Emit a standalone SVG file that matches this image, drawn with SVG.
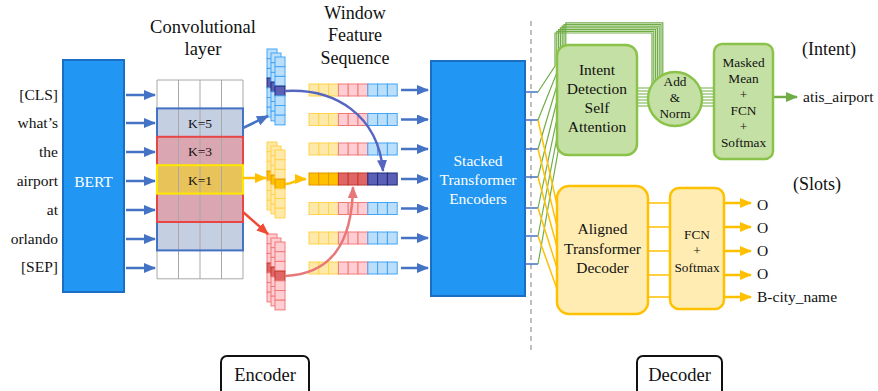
<svg xmlns="http://www.w3.org/2000/svg" xmlns:xlink="http://www.w3.org/1999/xlink" width="878" height="391" viewBox="0 0 878 391" font-family="'Liberation Serif', 'DejaVu Serif', serif">
<defs>
<style>
.t{font-family:'Liberation Serif','DejaVu Serif',serif;fill:#111;}
.w{font-family:'Liberation Serif','DejaVu Serif',serif;fill:#fff;}
.ab{stroke:#4472C4;stroke-width:2.5;fill:none;marker-end:url(#mB);}
.cy{fill:#FFE9A8;stroke:#FFD34D;stroke-width:1;}
.cr{fill:#FFCDD2;stroke:#F07A7A;stroke-width:1;}
.cb{fill:#BBDEFB;stroke:#42A5F5;stroke-width:1;}
.cyd{fill:#FFC000;stroke:#E69500;stroke-width:1;}
.crd{fill:#E06666;stroke:#C0392B;stroke-width:1;}
.cbd{fill:#5B5FB5;stroke:#1F2A7A;stroke-width:1;}
.grid{stroke:#A8A8A8;stroke-width:1;fill:none;}
.gl{stroke:#70AD47;stroke-width:1.2;fill:none;}
.yl{stroke:#FFC000;stroke-width:1.5;fill:none;}
.ya{stroke:#FFC000;stroke-width:2.5;fill:none;marker-end:url(#mY);}
</style>
<marker id="mB" markerUnits="userSpaceOnUse" viewBox="0 0 12 10" markerWidth="12" markerHeight="10" refX="11" refY="5" orient="auto"><path d="M0,0 L12,5 L0,10 z" fill="#4472C4"/></marker>
<marker id="mY" markerUnits="userSpaceOnUse" viewBox="0 0 12 10" markerWidth="12" markerHeight="10" refX="11" refY="5" orient="auto"><path d="M0,0 L12,5 L0,10 z" fill="#FFC000"/></marker>
<marker id="mR" markerUnits="userSpaceOnUse" viewBox="0 0 12 10" markerWidth="12" markerHeight="10" refX="11" refY="5" orient="auto"><path d="M0,0 L12,5 L0,10 z" fill="#F04A35"/></marker>
<marker id="mP" markerUnits="userSpaceOnUse" viewBox="0 0 12 10" markerWidth="12" markerHeight="10" refX="11" refY="5" orient="auto"><path d="M0,0 L12,5 L0,10 z" fill="#5565C0"/></marker>
<marker id="mK" markerUnits="userSpaceOnUse" viewBox="0 0 12 10" markerWidth="12" markerHeight="10" refX="11" refY="5" orient="auto"><path d="M0,0 L12,5 L0,10 z" fill="#E87878"/></marker>
<marker id="mG" markerUnits="userSpaceOnUse" viewBox="0 0 12 10" markerWidth="12" markerHeight="10" refX="11" refY="5" orient="auto"><path d="M0,0 L12,5 L0,10 z" fill="#70AD47"/></marker>
<g id="colB"><rect class="cb" x="0" y="0" width="10" height="9.7"/><rect class="cb" x="0" y="9.7" width="10" height="9.7"/><rect class="cb" x="0" y="19.4" width="10" height="9.7"/><rect class="cbd" x="0" y="29.1" width="10" height="9.7"/><rect class="cb" x="0" y="38.8" width="10" height="9.7"/><rect class="cb" x="0" y="48.5" width="10" height="9.7"/><rect class="cb" x="0" y="58.2" width="10" height="9.7"/></g>
<g id="colY"><rect class="cy" x="0" y="0" width="10" height="9.7"/><rect class="cy" x="0" y="9.7" width="10" height="9.7"/><rect class="cy" x="0" y="19.4" width="10" height="9.7"/><rect class="cyd" x="0" y="29.1" width="10" height="9.7"/><rect class="cy" x="0" y="38.8" width="10" height="9.7"/><rect class="cy" x="0" y="48.5" width="10" height="9.7"/><rect class="cy" x="0" y="58.2" width="10" height="9.7"/></g>
<g id="colR"><rect class="cr" x="0" y="0" width="10" height="9.7"/><rect class="cr" x="0" y="9.7" width="10" height="9.7"/><rect class="cr" x="0" y="19.4" width="10" height="9.7"/><rect class="crd" x="0" y="29.1" width="10" height="9.7"/><rect class="cr" x="0" y="38.8" width="10" height="9.7"/><rect class="cr" x="0" y="48.5" width="10" height="9.7"/><rect class="cr" x="0" y="58.2" width="10" height="9.7"/></g>
<g id="wrow"><rect class="cy" x="309" y="0" width="9.8" height="12"/><rect class="cy" x="318.8" y="0" width="9.8" height="12"/><rect class="cy" x="328.6" y="0" width="9.8" height="12"/><rect class="cr" x="338.4" y="0" width="9.8" height="12"/><rect class="cr" x="348.2" y="0" width="9.8" height="12"/><rect class="cr" x="358" y="0" width="9.8" height="12"/><rect class="cb" x="367.8" y="0" width="9.8" height="12"/><rect class="cb" x="377.6" y="0" width="9.8" height="12"/><rect class="cb" x="387.4" y="0" width="9.8" height="12"/></g>
</defs>
<rect width="878" height="391" fill="#fff"/>

<!-- titles -->
<text class="t" x="203" y="33" font-size="18.5" text-anchor="middle">Convolutional</text>
<text class="t" x="203" y="55" font-size="18.5" text-anchor="middle">layer</text>
<text class="t" x="355" y="19" font-size="18" text-anchor="middle">Window</text>
<text class="t" x="355" y="41" font-size="18" text-anchor="middle">Feature</text>
<text class="t" x="355" y="64" font-size="18" text-anchor="middle">Sequence</text>

<!-- tokens -->
<g id="tokens" font-size="15.5">
<text class="t" x="58" y="100" text-anchor="end">[CLS]</text>
<text class="t" x="58" y="128" text-anchor="end">what’s</text>
<text class="t" x="58" y="157" text-anchor="end">the</text>
<text class="t" x="58" y="186" text-anchor="end">airport</text>
<text class="t" x="58" y="215" text-anchor="end">at</text>
<text class="t" x="58" y="244" text-anchor="end">orlando</text>
<text class="t" x="58" y="272" text-anchor="end">[SEP]</text>
</g>

<g id="bert">
<rect x="63" y="60" width="61" height="232" fill="#2196F3" stroke="#1A6FC4" stroke-width="2"/>
<text class="w" x="93.5" y="187" font-size="15.5" text-anchor="middle">BERT</text>
</g>

<g id="conv">
<rect x="157" y="108.4" width="86" height="28.4" fill="#C5CFE2"/>
<rect x="157" y="136.8" width="86" height="28.4" fill="#D9A6B2"/>
<rect x="157" y="165.2" width="86" height="28.4" fill="#E8C35A"/>
<rect x="157" y="193.6" width="86" height="28.4" fill="#D9A6B2"/>
<rect x="157" y="222" width="86" height="28.4" fill="#C5CFE2"/>
<path class="grid" d="M157,80 H243 M157,108.4 H243 M157,136.8 H243 M157,165.2 H243 M157,193.6 H243 M157,222 H243 M157,250.4 H243 M157,278.8 H243 M157,80 V278.8 M178.5,80 V278.8 M200,80 V278.8 M221.5,80 V278.8 M243,80 V278.8"/>
<rect x="157" y="108.4" width="86" height="142" fill="none" stroke="#4472C4" stroke-width="2"/>
<rect x="157" y="136.8" width="86" height="85.2" fill="none" stroke="#E84545" stroke-width="2"/>
<rect x="157" y="165.2" width="86" height="28.4" fill="none" stroke="#FFE800" stroke-width="2"/>
<text class="t" x="200" y="127.5" font-size="13.5" text-anchor="middle">K=5</text>
<text class="t" x="200" y="156" font-size="13.5" text-anchor="middle">K=3</text>
<text class="t" x="200" y="184.5" font-size="13.5" text-anchor="middle">K=1</text>
</g>

<g id="stacks">
<use xlink:href="#colB" x="267" y="49"/><use xlink:href="#colB" x="271" y="53"/><use xlink:href="#colB" x="275" y="57"/>
<use xlink:href="#colY" x="267" y="142"/><use xlink:href="#colY" x="271" y="146"/><use xlink:href="#colY" x="275" y="150"/>
<use xlink:href="#colR" x="267" y="234"/><use xlink:href="#colR" x="271" y="238"/><use xlink:href="#colR" x="275" y="242"/>
</g>

<g id="window">
<use xlink:href="#wrow" y="84"/>
<use xlink:href="#wrow" y="113.5"/>
<use xlink:href="#wrow" y="143"/>
<g>
<rect class="cyd" x="309" y="173" width="9.8" height="12"/><rect class="cyd" x="318.8" y="173" width="9.8" height="12"/><rect class="cyd" x="328.6" y="173" width="9.8" height="12"/>
<rect class="crd" x="338.4" y="173" width="9.8" height="12"/><rect class="crd" x="348.2" y="173" width="9.8" height="12"/><rect class="crd" x="358" y="173" width="9.8" height="12"/>
<rect class="cbd" x="367.8" y="173" width="9.8" height="12"/><rect class="cbd" x="377.6" y="173" width="9.8" height="12"/><rect class="cbd" x="387.4" y="173" width="9.8" height="12"/>
</g>
<use xlink:href="#wrow" y="202.5"/>
<use xlink:href="#wrow" y="232"/>
<use xlink:href="#wrow" y="262"/>
</g>

<g id="encoder">
<rect x="431" y="61" width="94" height="235" fill="#2196F3" stroke="#1A6FC4" stroke-width="2"/>
<text class="w" x="478" y="166" font-size="15.5" text-anchor="middle">Stacked</text>
<text class="w" x="478" y="185" font-size="15.5" text-anchor="middle">Transformer</text>
<text class="w" x="478" y="204" font-size="15.5" text-anchor="middle">Encoders</text>
</g>

<line x1="531" y1="21" x2="531" y2="350" stroke="#AAAAAA" stroke-width="1.5" stroke-dasharray="5,4"/>

<g id="connectors">
<g class="ab">
<path d="M126,95 H155"/><path d="M126,123 H155"/><path d="M126,152 H155"/><path d="M126,181 H155"/><path d="M126,210 H155"/><path d="M126,239 H155"/><path d="M126,268 H155"/>
<path d="M401,90 H428"/><path d="M401,119.5 H428"/><path d="M401,149 H428"/><path d="M401,179 H428"/><path d="M401,208.5 H428"/><path d="M401,238 H428"/><path d="M401,268 H428"/>
<path d="M243,128 L268,116"/>
</g>
<path d="M243,178 L266,178" stroke="#FFC000" stroke-width="2.5" fill="none" marker-end="url(#mY)"/>
<path d="M243,212 L268,234" stroke="#F04A35" stroke-width="2.5" fill="none" marker-end="url(#mR)"/>
<path d="M285,91 C335,88 378,115 383,171" stroke="#5565C0" stroke-width="2.5" fill="none" marker-end="url(#mP)"/>
<path d="M285,184 C295,184 294,179 306,179" stroke="#FFC000" stroke-width="2.5" fill="none" marker-end="url(#mY)"/>
<path d="M285,276 C330,274 352,245 353,187" stroke="#E87878" stroke-width="2.5" fill="none" marker-end="url(#mK)"/>
<path d="M525,92 H538 M525,120 H538 M525,149 H538 M525,177 H538 M525,208 H538 M525,236 H538 M525,264 H538" stroke="#4472C4" stroke-width="1.5" fill="none"/>
<path class="gl" d="M538,92 L555,66 V33 H652 V100"/>
<path class="gl" d="M538,120 L556.8,73 V31.3 H653.8 V100"/>
<path class="gl" d="M538,149 L558.6,80 V29.6 H655.6 V100"/>
<path class="gl" d="M538,177 L560.4,87 V27.9 H657.4 V100"/>
<path class="gl" d="M538,208 L562.2,94 V26.2 H659.2 V100"/>
<path class="gl" d="M538,236 L564,101 V24.5 H661 V100"/>
<path class="gl" d="M538,264 L565.8,108 V22.8 H662.8 V100"/>
<path class="gl" d="M637,88 H714 M637,91 H714 M637,94 H714 M637,97 H714 M637,100 H714 M637,103 H714 M637,106 H714"/>
<path class="yl" d="M538,120 L557,205 M538,149 L557,226 M538,177 L557,247 M538,208 L557,268 M538,236 L557,289"/>
<path class="yl" d="M648,203 H670 M648,227 H670 M648,251 H670 M648,275 H670 M648,297 H670"/>
<g class="ya">
<path d="M724,203 H751"/><path d="M724,227 H751"/><path d="M724,251 H751"/><path d="M724,275 H751"/><path d="M724,297 H751"/>
</g>
<path d="M773,97 H797" stroke="#70AD47" stroke-width="2.5" fill="none" marker-end="url(#mG)"/>
</g>

<g id="intent">
<rect x="557" y="45" width="80" height="110" rx="11" fill="#C5E0A4" stroke="#8BC34A" stroke-width="2.5"/>
<text class="t" x="597" y="75" font-size="15.5" text-anchor="middle">Intent</text>
<text class="t" x="597" y="94" font-size="15.5" text-anchor="middle">Detection</text>
<text class="t" x="597" y="113" font-size="15.5" text-anchor="middle">Self</text>
<text class="t" x="597" y="132" font-size="15.5" text-anchor="middle">Attention</text>
</g>

<g id="addnorm">
<circle cx="675" cy="99" r="27" fill="#C5E0A4" stroke="#8BC34A" stroke-width="2.5"/>
<text class="t" x="675" y="86" font-size="13.3" text-anchor="middle">Add</text>
<text class="t" x="675" y="101.5" font-size="13.3" text-anchor="middle">&amp;</text>
<text class="t" x="675" y="118" font-size="13.3" text-anchor="middle">Norm</text>
</g>

<g id="masked">
<rect x="714" y="44" width="59" height="115" rx="8" fill="#C5E0A4" stroke="#8BC34A" stroke-width="2.5"/>
<text class="t" x="743.5" y="66.5" font-size="13.3" text-anchor="middle">Masked</text>
<text class="t" x="743.5" y="82.5" font-size="13.3" text-anchor="middle">Mean</text>
<text class="t" x="743.5" y="99" font-size="13.3" text-anchor="middle">+</text>
<text class="t" x="743.5" y="114.5" font-size="13.3" text-anchor="middle">FCN</text>
<text class="t" x="743.5" y="131" font-size="13.3" text-anchor="middle">+</text>
<text class="t" x="743.5" y="146.5" font-size="13.3" text-anchor="middle">Softmax</text>
</g>

<text class="t" x="829" y="55" font-size="18" text-anchor="middle">(Intent)</text>
<text class="t" x="803" y="102" font-size="15.5">atis_airport</text>

<g id="decoder">
<rect x="557" y="186" width="91" height="128" rx="12" fill="#FFECB3" stroke="#FFC000" stroke-width="2.5"/>
<text class="t" x="602.5" y="234" font-size="15.5" text-anchor="middle">Aligned</text>
<text class="t" x="602.5" y="254" font-size="15.5" text-anchor="middle">Transformer</text>
<text class="t" x="602.5" y="273" font-size="15.5" text-anchor="middle">Decoder</text>
</g>

<g id="fcn">
<rect x="670" y="188" width="54" height="121" rx="9" fill="#FFECB3" stroke="#FFC000" stroke-width="2.5"/>
<text class="t" x="697" y="239" font-size="13.3" text-anchor="middle">FCN</text>
<text class="t" x="697" y="255" font-size="13.3" text-anchor="middle">+</text>
<text class="t" x="697" y="272" font-size="13.3" text-anchor="middle">Softmax</text>
</g>

<text class="t" x="817" y="190" font-size="18" text-anchor="middle">(Slots)</text>
<g id="slots" font-size="15.5">
<text class="t" x="757" y="210">O</text>
<text class="t" x="757" y="233">O</text>
<text class="t" x="757" y="256">O</text>
<text class="t" x="757" y="279">O</text>
<text class="t" x="757" y="302">B-city_name</text>
</g>

<g id="enc-label">
<rect x="221" y="356" width="88" height="42" rx="6" fill="#fff" stroke="#111" stroke-width="2"/>
<text class="t" x="265" y="381" font-size="18.5" text-anchor="middle">Encoder</text>
</g>
<g id="dec-label">
<rect x="637" y="356" width="85" height="42" rx="6" fill="#fff" stroke="#111" stroke-width="2"/>
<text class="t" x="679.5" y="381" font-size="18.5" text-anchor="middle">Decoder</text>
</g>
</svg>
